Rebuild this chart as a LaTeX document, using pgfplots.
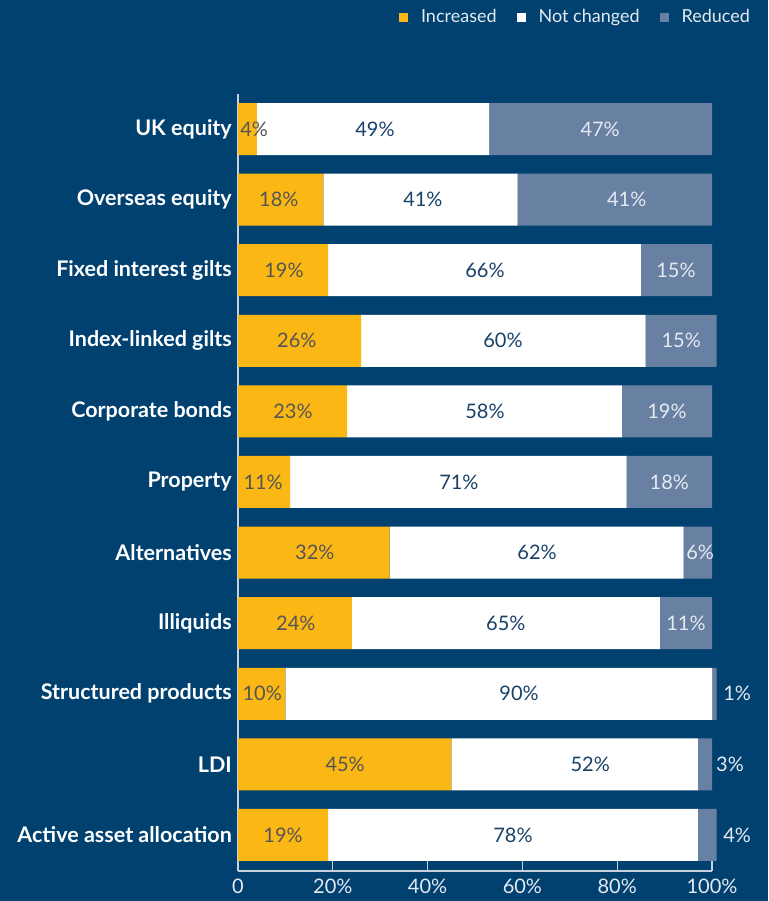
\documentclass[border=0pt]{standalone}
\usepackage{pgfplots}
\usepackage{pgfplotstable}
\pgfplotsset{compat=1.18}
\usepackage{fontspec}
\setmainfont{Lato}
\definecolor{bg}{RGB}{0,65,112}
\definecolor{incc}{RGB}{251,184,20}
\definecolor{redc}{RGB}{104,128,161}
\definecolor{axisc}{RGB}{200,210,222}
\definecolor{txtl}{RGB}{228,234,242}
\definecolor{txtd}{RGB}{25,65,105}
\definecolor{txtg}{RGB}{85,85,85}

\pgfplotstableread{
y inc nc red xi xn xr
10 4 49 47 3.4 28.9 76.4
9 18 41 41 8.6 39 82
8 19 66 15 9.7 52.1 92.4
7 26 60 15 12.4 55.9 93.5
6 23 58 19 11.6 52.1 90.5
5 11 71 18 5.3 46.6 91
4 32 62 6 16.2 63.1 97.5
3 24 65 11 12.2 56.5 94.5
2 10 90 1 5.1 59.3 105.3
1 45 52 3 22.6 74.3 103.8
0 19 78 4 9.5 58 105.3
}\data

\pgfplotsset{common/.style={scale only axis, width=474pt, height=777pt,
  xmin=0, xmax=100, ymin=-0.51, ymax=10.496, at={(238pt,30pt)}, anchor=south west}}

\begin{document}
\begin{tikzpicture}
\fill[bg] (0,0) rectangle (768pt,901pt);
\begin{axis}[common, xbar stacked, bar width=52pt, clip=false,
  axis x line*=bottom, axis y line*=left,
  axis line style={axisc, line width=1.2pt, -},
  xtick={0,20,40,60,80,100}, xticklabels={0,20\%,40\%,60\%,80\%,100\%},
  tick align=inside, major tick length=10pt,
  x tick style={axisc, line width=1.2pt},
  ytick={0,...,10},
  yticklabels={Active asset allocation,LDI,Structured products,Illiquids,Alternatives,Property,Corporate bonds,Index-linked gilts,Fixed interest gilts,Overseas equity,UK equity},
  y tick style={draw=none},
  yticklabel style={font=\bfseries\fontsize{21.5}{21.5}\selectfont, text=white, inner sep=0pt, xshift=-6pt},
  xticklabel style={font=\fontsize{20}{20}\selectfont, text=txtl, yshift=-4pt},
  legend style={at={(1.091,1.099)}, anchor=east, draw=none, fill=none, text=txtl,
    font=\fontsize{18}{18}\selectfont, legend columns=3,
    /tikz/every odd column/.append style={column sep=11pt},
    /tikz/every even column/.append style={column sep=18pt}},
  legend image code/.code={\fill[#1] (0pt,-4.5pt) rectangle (9pt,4.5pt);},
]
\addplot[fill=incc, draw=none] table[x=inc, y=y] {\data};
\addplot[fill=white, draw=none] table[x=nc, y=y] {\data};
\addplot[fill=redc, draw=none] table[x=red, y=y] {\data};
\legend{Increased, Not changed, Reduced}
\end{axis}
\begin{axis}[common, hide axis, clip=false,
  /pgf/number format/assume math mode=true,
  every node near coord/.append style={anchor=center, font=\fontsize{20}{20}\selectfont},
  nodes near coords={\pgfmathprintnumber{\pgfplotspointmeta}\%}, point meta=explicit]
\addplot[draw=none, mark=none, every node near coord/.append style={text=txtg}] table[x=xi, y=y, meta=inc] {\data};
\addplot[draw=none, mark=none, every node near coord/.append style={text=txtd}] table[x=xn, y=y, meta=nc] {\data};
\addplot[draw=none, mark=none, every node near coord/.append style={text=txtl}] table[x=xr, y=y, meta=red] {\data};
\end{axis}
\end{tikzpicture}
\end{document}
